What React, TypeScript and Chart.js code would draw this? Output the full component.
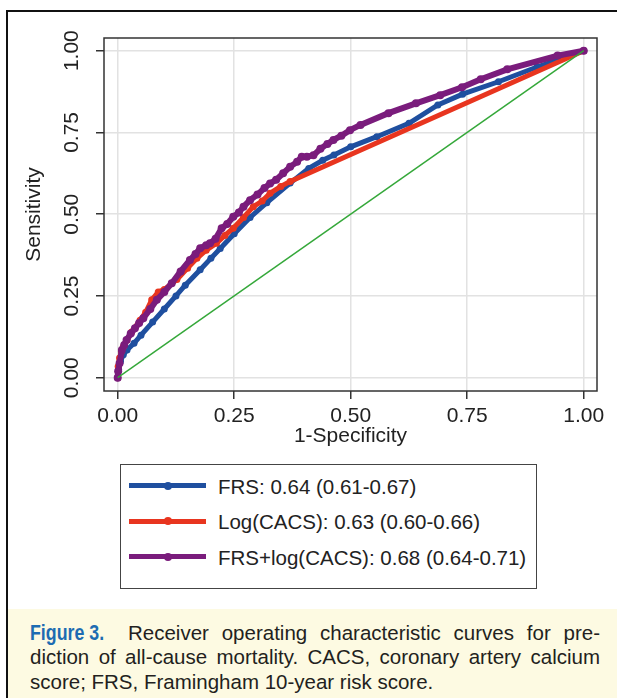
import React, { useEffect, useRef } from "react";
import { Chart, registerables } from "chart.js";

Chart.register(...registerables);

// ---- data ----
const TICK_VALUES = [0, 0.25, 0.5, 0.75, 1];
const X_TITLE = "1-Specificity";
const Y_TITLE = "Sensitivity";

const FRS_X = [0, 0.002, 0.006, 0.012, 0.02, 0.035, 0.05, 0.075, 0.1, 0.125, 0.145, 0.177, 0.2, 0.22, 0.25, 0.284, 0.32, 0.37, 0.41, 0.44, 0.464, 0.5, 0.556, 0.625, 0.687, 0.74, 0.817, 0.9, 0.95, 1];
const FRS_Y = [0, 0.025, 0.05, 0.07, 0.085, 0.105, 0.13, 0.17, 0.21, 0.25, 0.283, 0.33, 0.365, 0.395, 0.44, 0.49, 0.535, 0.595, 0.64, 0.665, 0.681, 0.706, 0.737, 0.778, 0.834, 0.867, 0.905, 0.95, 0.975, 1];

const LOG_X = [0, 0.001, 0.004, 0.008, 0.012, 0.02, 0.03, 0.048, 0.06, 0.073, 0.087, 0.1, 0.127, 0.15, 0.17, 0.19, 0.212, 0.23, 0.248, 0.27, 0.291, 0.31, 0.327, 0.35, 0.37, 1];
const LOG_Y = [0, 0.034, 0.06, 0.08, 0.095, 0.115, 0.14, 0.176, 0.2, 0.238, 0.262, 0.27, 0.3, 0.335, 0.365, 0.39, 0.411, 0.435, 0.457, 0.49, 0.523, 0.54, 0.564, 0.585, 0.6, 1];

const COMB_X = [0, 0.001, 0.004, 0.009, 0.014, 0.019, 0.028, 0.037, 0.046, 0.055, 0.07, 0.084, 0.1, 0.116, 0.135, 0.155, 0.167, 0.177, 0.19, 0.198, 0.21, 0.223, 0.235, 0.248, 0.26, 0.27, 0.284, 0.3, 0.315, 0.327, 0.34, 0.355, 0.37, 0.385, 0.395, 0.406, 0.42, 0.435, 0.45, 0.463, 0.48, 0.4985, 0.521, 0.581, 0.64, 0.692, 0.739, 0.779, 0.836, 0.944, 1];
const COMB_Y = [0, 0.02, 0.044, 0.085, 0.1, 0.115, 0.135, 0.151, 0.167, 0.182, 0.21, 0.238, 0.262, 0.289, 0.325, 0.36, 0.378, 0.396, 0.405, 0.411, 0.425, 0.457, 0.47, 0.492, 0.505, 0.523, 0.543, 0.56, 0.58, 0.594, 0.605, 0.625, 0.645, 0.66, 0.676, 0.676, 0.68, 0.7, 0.715, 0.727, 0.74, 0.757, 0.773, 0.809, 0.839, 0.864, 0.888, 0.9125, 0.943, 0.985, 1];

const REF_X = [0, 1];
const REF_Y = [0, 1];

const SERIES_LABELS = [
  "FRS: 0.64 (0.61-0.67)",
  "Log(CACS): 0.63 (0.60-0.66)",
  "FRS+log(CACS): 0.68 (0.64-0.71)",
];
const SERIES_COLORS = ["#1f4f9f", "#e8351f", "#7a1c7c"];
const REF_COLOR = "#35a83a";

const CAPTION_LABEL = "Figure 3.";
const CAPTION_LINE1 = "Receiver operating characteristic curves for pre-";
const CAPTION_LINE2 = "diction of all-cause mortality. CACS, coronary artery calcium";
const CAPTION_LINE3 = "score; FRS, Framingham 10-year risk score.";

const FONT = '"Liberation Sans", Arial, Helvetica, sans-serif';

const toPoints = (xs: number[], ys: number[]) => xs.map((x, i) => ({ x, y: ys[i] }));

const framePlugin = {
  id: "frame",
  beforeDatasetsDraw(chart: any) {
    const { ctx, chartArea: a } = chart;
    ctx.save();
    ctx.strokeStyle = "#333";
    ctx.lineWidth = 1.5;
    ctx.strokeRect(a.left, a.top, a.right - a.left, a.bottom - a.top);
    ctx.restore();
  },
};

export default function App() {
  const ref = useRef<HTMLCanvasElement | null>(null);

  useEffect(() => {
    if (!ref.current) return;
    const setTicks = (scale: any) => {
      scale.ticks = TICK_VALUES.map((v) => ({ value: v }));
    };
    const chart = new Chart(ref.current, {
      type: "line",
      data: {
        datasets: [
          {
            label: "reference",
            data: toPoints(REF_X, REF_Y),
            borderColor: REF_COLOR,
            borderWidth: 1.5,
            pointRadius: 0,
            tension: 0,
          },
          {
            label: SERIES_LABELS[2],
            data: toPoints(COMB_X, COMB_Y),
            borderColor: SERIES_COLORS[2],
            backgroundColor: SERIES_COLORS[2],
            borderWidth: 6,
            pointRadius: 4,
            pointBorderWidth: 0,
            pointBackgroundColor: SERIES_COLORS[2],
            tension: 0,
          },
          {
            label: SERIES_LABELS[1],
            data: toPoints(LOG_X, LOG_Y),
            borderColor: SERIES_COLORS[1],
            backgroundColor: SERIES_COLORS[1],
            borderWidth: 5,
            pointRadius: 3.5,
            pointBorderWidth: 0,
            pointBackgroundColor: SERIES_COLORS[1],
            tension: 0,
          },
          {
            label: SERIES_LABELS[0],
            data: toPoints(FRS_X, FRS_Y),
            borderColor: SERIES_COLORS[0],
            backgroundColor: SERIES_COLORS[0],
            borderWidth: 5,
            pointRadius: 3.5,
            pointBorderWidth: 0,
            pointBackgroundColor: SERIES_COLORS[0],
            tension: 0,
          },
        ],
      },
      options: {
        animation: false,
        responsive: true,
        maintainAspectRatio: false,
        devicePixelRatio: 1,
        layout: { padding: { top: 26, right: 20, left: 0, bottom: 0 } },
        plugins: { legend: { display: false }, tooltip: { enabled: false } },
        scales: {
          x: {
            type: "linear",
            min: -0.0294,
            max: 1.0285,
            afterBuildTicks: setTicks,
            afterFit: (s: any) => {
              s.height = 67;
            },
            grid: { color: "#e2e2e2", lineWidth: 1.5, tickLength: 8, tickColor: "#333", tickWidth: 1.5 },
            border: { display: false },
            ticks: {
              padding: 5,
              color: "#222",
              font: { family: FONT, size: 21 },
              callback: (v: any) => Number(v).toFixed(2),
              autoSkip: false,
              maxRotation: 0,
            },
            title: {
              display: true,
              text: X_TITLE,
              color: "#222",
              font: { family: FONT, size: 21 },
              padding: { top: 0, bottom: 9 },
            },
          },
          y: {
            type: "linear",
            min: -0.0407,
            max: 1.0388,
            afterBuildTicks: setTicks,
            afterFit: (s: any) => {
              s.width = 96;
            },
            grid: { color: "#e2e2e2", lineWidth: 1.5, tickLength: 8, tickColor: "#333", tickWidth: 1.5 },
            border: { display: false },
            ticks: {
              padding: 3,
              color: "#222",
              crossAlign: "center",
              minRotation: 90,
              maxRotation: 90,
              autoSkip: false,
              font: { family: FONT, size: 21 },
              callback: (v: any) => Number(v).toFixed(2),
            },
            title: {
              display: true,
              text: Y_TITLE,
              color: "#222",
              font: { family: FONT, size: 21 },
              padding: { top: 14, bottom: 0 },
            },
          },
        },
      },
      plugins: [framePlugin],
    } as any);
    return () => chart.destroy();
  }, []);

  const legendTop = 485.7;
  const legendStep = 35.6;

  return (
    <div
      style={{
        position: "fixed",
        left: 0,
        top: 0,
        width: 617,
        height: 698,
        overflow: "hidden",
        background: "#fff",
        fontFamily: FONT,
      }}
    >
      <div
        style={{
          position: "absolute",
          left: 6,
          top: 10,
          width: 700,
          height: 800,
          borderLeft: "2px solid #111",
          borderTop: "2px solid #111",
          boxSizing: "border-box",
        }}
      />
      <div style={{ position: "absolute", left: 8, top: 12, width: 609, height: 446 }}>
        <canvas ref={ref} />
      </div>

      {/* legend */}
      <div
        style={{
          position: "absolute",
          left: 120,
          top: 464,
          width: 417,
          height: 125,
          border: "1.5px solid #444",
          boxSizing: "border-box",
        }}
      />
      {SERIES_LABELS.map((lab, i) => {
        const cy = legendTop + i * legendStep;
        return (
          <React.Fragment key={lab}>
            <div
              style={{
                position: "absolute",
                left: 129,
                top: cy - 2.5,
                width: 77,
                height: 5,
                background: SERIES_COLORS[i],
              }}
            />
            <div
              style={{
                position: "absolute",
                left: 167.7 - 4,
                top: cy - 4,
                width: 8,
                height: 8,
                borderRadius: "50%",
                background: SERIES_COLORS[i],
              }}
            />
            <div
              style={{
                position: "absolute",
                left: 218,
                top: cy - 11,
                fontSize: 20.5,
                lineHeight: "24px",
                color: "#222",
                whiteSpace: "nowrap",
              }}
            >
              {lab}
            </div>
          </React.Fragment>
        );
      })}

      {/* caption */}
      <div style={{ position: "absolute", left: 8, top: 609, width: 609, height: 89, background: "#fdfae2" }} />
      <div
        style={{
          position: "absolute",
          left: 30,
          top: 620.65,
          height: 24.5,
          lineHeight: "24.5px",
          fontSize: 22.5,
          fontWeight: "bold",
          color: "#1d6cb2",
          whiteSpace: "nowrap",
          transform: "scaleX(0.79)",
          transformOrigin: "left center",
        }}
      >
        {CAPTION_LABEL}
      </div>
      <div
        style={{
          position: "absolute",
          left: 128,
          top: 620.65,
          width: 472,
          lineHeight: "24.5px",
          fontSize: 20.5,
          color: "#231f20",
          textAlign: "justify",
          textAlignLast: "justify" as any,
          whiteSpace: "nowrap",
        }}
      >
        {CAPTION_LINE1}
      </div>
      <div
        style={{
          position: "absolute",
          left: 30,
          top: 645.15,
          width: 570,
          lineHeight: "24.5px",
          fontSize: 20.5,
          color: "#231f20",
          textAlign: "justify",
          textAlignLast: "justify" as any,
        }}
      >
        {CAPTION_LINE2}
      </div>
      <div
        style={{
          position: "absolute",
          left: 30,
          top: 669.65,
          width: 570,
          lineHeight: "24.5px",
          fontSize: 20.5,
          color: "#231f20",
          whiteSpace: "nowrap",
        }}
      >
        {CAPTION_LINE3}
      </div>
    </div>
  );
}
